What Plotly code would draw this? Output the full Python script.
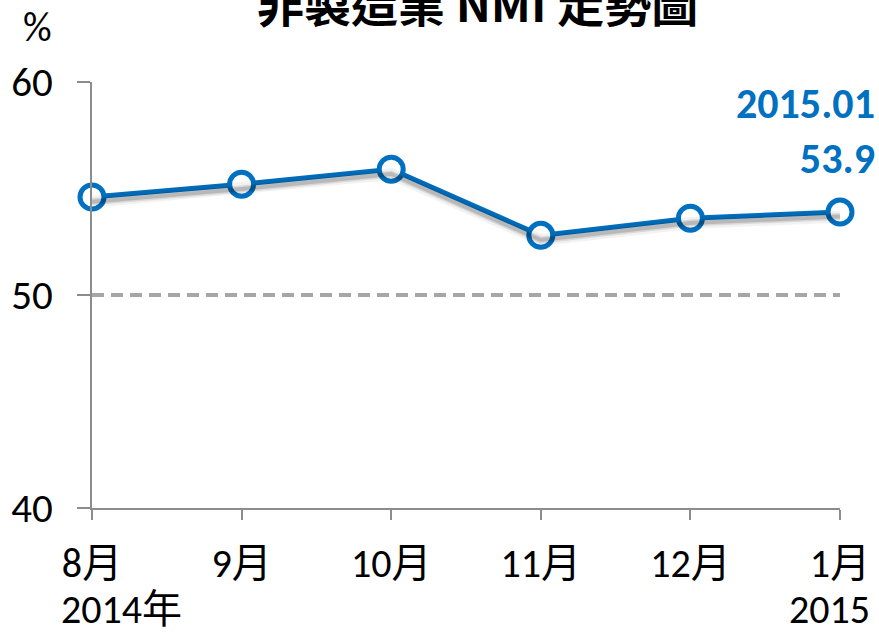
import plotly.graph_objects as go

months = ["8月", "9月", "10月", "11月", "12月", "1月"]
nmi = [54.6, 55.2, 55.9, 52.8, 53.6, 53.9]
baseline = [50, 50, 50, 50, 50, 50]
y_ticks = [40, 50, 60]
year_start = "2014年"
year_end = "2015"
last_label = "2015.01"
title_text = "非製造業 NMI 走勢圖"
unit_text = "%"

BLUE = "#0070C0"
AXIS = "#8C8C8C"
FONT = "Carlito, Liberation Sans Narrow, Liberation Sans, Noto Sans CJK TC, sans-serif"
xs = list(range(len(months)))

fig = go.Figure()

# dashed 50 reference line
fig.add_trace(go.Scatter(x=xs, y=baseline, mode="lines",
                         line=dict(color="#A6A6A6", width=4, dash="12px,7px"),
                         hoverinfo="skip", showlegend=False, cliponaxis=False))

# soft shadow (same data, on a slightly shifted overlaying axis)
for w, op in [(12, 0.05), (7, 0.10), (4, 0.15)]:
    fig.add_trace(go.Scatter(x=xs, y=nmi, mode="lines", yaxis="y2",
                             line=dict(color=f"rgba(0,0,0,{op})", width=w),
                             hoverinfo="skip", showlegend=False, cliponaxis=False))

fig.add_trace(go.Scatter(x=xs, y=nmi, mode="lines+markers",
                         line=dict(color=BLUE, width=5),
                         marker=dict(size=24, color="white",
                                     line=dict(color=BLUE, width=5)),
                         showlegend=False, cliponaxis=False))

fig.update_layout(
    width=879, height=633,
    margin=dict(l=92, r=39, t=82, b=125, autoexpand=False),
    paper_bgcolor="white", plot_bgcolor="white",
    font=dict(family=FONT, size=36, color="black"),
    xaxis=dict(range=[0, len(months) - 1], tickmode="array", tickvals=xs,
               ticktext=months, showgrid=False, zeroline=False, automargin=False,
               showline=True, linecolor=AXIS, linewidth=2,
               ticks="outside", ticklen=10, tickcolor=AXIS, tickwidth=2,
               ticklabelstandoff=9, tickfont=dict(size=40)),
    yaxis=dict(range=[40, 60], tickvals=y_ticks, showgrid=False, zeroline=False,
               automargin=False,
               showline=True, linecolor=AXIS, linewidth=2,
               ticks="outside", ticklen=13, tickcolor=AXIS, tickwidth=2,
               ticklabelstandoff=16, tickfont=dict(size=41)),
    yaxis2=dict(range=[40.22, 60.22], overlaying="y", visible=False),
)

annotations = [
    dict(text=f"<b>{title_text}</b>", xref="paper", yref="paper",
         x=(478 - 92) / 748, y=1 + (82 - 2) / 426, xanchor="center", yanchor="middle",
         showarrow=False, font=dict(size=47, family="Noto Sans CJK TC, sans-serif")),
    dict(text=unit_text, xref="paper", yref="paper",
         x=(37 - 92) / 748, y=1 + (82 - 27) / 426, xanchor="center", yanchor="middle",
         showarrow=False, font=dict(size=40)),
    dict(text=f"<b>{last_label}<br>{nmi[-1]}</b>", xref="paper", yref="paper",
         x=(877 - 92) / 748, y=1 - (131 - 82) / 426, xanchor="right", yanchor="middle",
         align="right", showarrow=False, font=dict(size=42, color=BLUE)),
    dict(text=year_start, xref="x", yref="paper", x=xs[0], xshift=-33,
         y=-(609 - 508) / 426, xanchor="left", yanchor="middle",
         showarrow=False, font=dict(size=40)),
    dict(text=year_end, xref="x", yref="paper", x=xs[-1], xshift=32,
         y=-(609 - 508) / 426, xanchor="right", yanchor="middle",
         showarrow=False, font=dict(size=40)),
]
fig.update_layout(annotations=annotations)

fig.write_html("out.html", config={"displayModeBar": False},
               post_script="document.body.style.margin='0';document.body.style.overflow='hidden';")
